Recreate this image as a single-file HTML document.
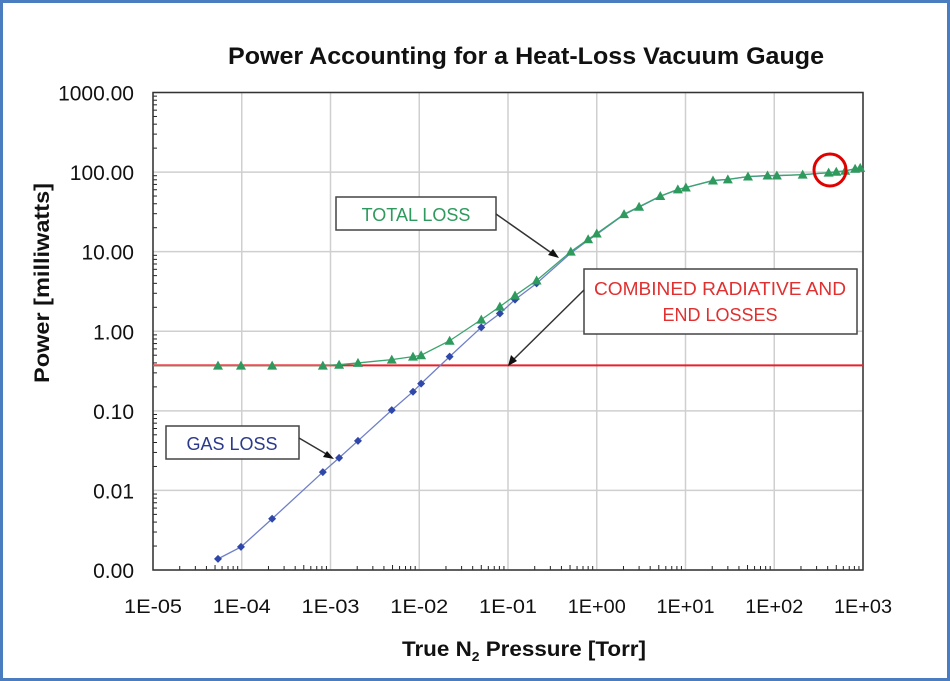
<!DOCTYPE html>
<html><head><meta charset="utf-8"><style>
html,body{margin:0;padding:0;background:#fff}
svg{display:block;font-family:"Liberation Sans",Arial,sans-serif}
</style></head><body>
<svg id="chart" width="950" height="681" viewBox="0 0 950 681" xmlns="http://www.w3.org/2000/svg">
<rect x="1.5" y="1.5" width="947" height="678" fill="#fff" stroke="#4a7dc0" stroke-width="3"/>
<text x="526" y="64" text-anchor="middle" font-size="24" font-weight="bold" fill="#111" textLength="596" lengthAdjust="spacingAndGlyphs">Power Accounting for a Heat-Loss Vacuum Gauge</text>
<g id="grid"></g>
<g id="axes"></g>
<g id="series"></g>
<text transform="translate(49,283) rotate(-90)" text-anchor="middle" font-size="21" font-weight="bold" fill="#111" textLength="200" lengthAdjust="spacingAndGlyphs">Power [milliwatts]</text>
<text x="524" y="656" text-anchor="middle" font-size="21" font-weight="bold" fill="#111" textLength="244" lengthAdjust="spacingAndGlyphs">True N<tspan font-size="13" dy="5">2</tspan><tspan dy="-5"> Pressure [Torr]</tspan></text>
<g>
<rect x="336" y="197" width="160" height="33" fill="#fff" stroke="#444" stroke-width="1.5"/>
<text x="416" y="221" text-anchor="middle" font-size="18" fill="#2e9a5e">TOTAL LOSS</text>
<line x1="496" y1="214" x2="553" y2="254" stroke="#333" stroke-width="1.5"/>
<polygon points="559,258 548,255 553,249" fill="#111"/>
</g>
<g>
<rect x="584" y="269" width="273" height="65" fill="#fff" stroke="#444" stroke-width="1.5"/>
<text x="720" y="295" text-anchor="middle" font-size="18" fill="#e03030" textLength="252" lengthAdjust="spacingAndGlyphs">COMBINED RADIATIVE AND</text>
<text x="720" y="321" text-anchor="middle" font-size="18" fill="#e03030">END LOSSES</text>
<line x1="584" y1="290" x2="512" y2="361" stroke="#333" stroke-width="1.5"/>
<polygon points="508,366 511,355 517,361" fill="#111"/>
</g>
<g>
<rect x="166" y="426" width="133" height="33" fill="#fff" stroke="#444" stroke-width="1.5"/>
<text x="232" y="450" text-anchor="middle" font-size="18" fill="#2b3a8c">GAS LOSS</text>
<line x1="299" y1="438" x2="328" y2="455" stroke="#333" stroke-width="1.5"/>
<polygon points="334,459 323,457 327,451" fill="#111"/>
</g>
<circle cx="830" cy="170" r="16" fill="none" stroke="#e00000" stroke-width="3"/>
</svg>
<script>
const totalP=[5.4e-5,9.8e-5,2.2e-4,8.2e-4,1.25e-3,2.04e-3,4.9e-3,8.5e-3,1.05e-2,0.022,0.05,0.081,0.12,0.21,0.51,0.80,1.0,2.03,3.0,5.2,8.2,10.1,20.4,30,50.6,84,107,209,410,500,630,815,930];
const totalW=[0.37,0.37,0.37,0.37,0.38,0.40,0.44,0.48,0.50,0.76,1.40,2.04,2.81,4.34,10.0,14.3,16.9,29.6,36.7,50.0,60.6,64.1,78.5,81.0,88,90.5,90.5,93,98.5,101,104,110,113];
const gasP=[5.4e-5,9.8e-5,2.2e-4,8.2e-4,1.25e-3,2.04e-3,4.9e-3,8.5e-3,1.05e-2,0.022,0.05,0.081,0.12,0.21,0.51,0.80,1.0,2.03,3.0,5.2,8.2,10.1,20.4,30,50.6,84,107,209,410,500,630,815,930];
const gasW=[0.00138,0.00195,0.0044,0.017,0.0256,0.042,0.102,0.174,0.22,0.48,1.12,1.67,2.5,4.0,9.6,13.9,16.5,29.2,36.3,49.6,60.2,63.7,78.1,80.6,87.6,90.1,90.1,92.6,98.1,100.6,103.6,109.6,112.6];
const radiativeW=[0.373];
const xTickExp=[-5,-4,-3,-2,-1,0,1,2,3];
const xTickLabels=["1E-05","1E-04","1E-03","1E-02","1E-01","1E+00","1E+01","1E+02","1E+03"];
const yTickExp=[-3,-2,-1,0,1,2,3];
const yTickLabels=["0.00","0.01","0.10","1.00","10.00","100.00","1000.00"];

const L=153,R=863,T=92.5,B=570;
function X(p){return L+(Math.log10(p)+5)/8*(R-L);}
function Y(w){return B-(Math.log10(w)+3)/6*(B-T);}
const NS="http://www.w3.org/2000/svg";
function mk(parent,tag,attrs){const e=document.createElementNS(NS,tag);for(const k in attrs)e.setAttribute(k,attrs[k]);parent.appendChild(e);return e;}
const grid=document.getElementById('grid'),axes=document.getElementById('axes'),ser=document.getElementById('series');
xTickExp.forEach((e,i)=>{
  const x=X(Math.pow(10,e));
  const g=mk(grid,'line',{x1:x,x2:x,y1:T,y2:B,stroke:'#cfcfcf','stroke-width':1.5});
  
  
  const t=mk(axes,'text',{x:x,y:613,'text-anchor':'middle','font-size':19,fill:'#111',textLength:58,lengthAdjust:'spacingAndGlyphs'});
  t.textContent=xTickLabels[i];
  
  
  if(i<xTickExp.length-1){for(let m=2;m<=9;m++){const xm=X(m*Math.pow(10,e));
    const l=mk(axes,'line',{x1:xm,x2:xm,y1:B,y2:B-(m==5?5:4),stroke:'#222','stroke-width':1});
    
    }}
});
yTickExp.forEach((e,i)=>{
  const y=Y(Math.pow(10,e));
  const g=mk(grid,'line',{x1:L,x2:R,y1:y,y2:y,stroke:'#cfcfcf','stroke-width':1.5});
  
  
  const t=mk(axes,'text',{x:134,y:y+8,'text-anchor':'end','font-size':21,fill:'#111'});
  t.textContent=yTickLabels[i];
  
  
  if(i<yTickExp.length-1){for(let m=2;m<=9;m++){const ym=Y(m*Math.pow(10,e));
    const l=mk(axes,'line',{x1:L,x2:L+4,y1:ym,y2:ym,stroke:'#222','stroke-width':1});
    
    }}
});
const frame=mk(axes,'rect',{x:L,y:T,width:R-L,height:B-T,fill:'none',stroke:'#333','stroke-width':1.5});


const rl=mk(ser,'line',{x1:L,x2:R,y1:Y(radiativeW[0]),y2:Y(radiativeW[0]),stroke:'#e8222a','stroke-width':2});


const gl=mk(ser,'polyline',{points:gasP.map((p,i)=>X(p)+','+Y(gasW[i])).join(' '),fill:'none',stroke:'#6f7fc8','stroke-width':1.3});


gasP.forEach((p,i)=>{if(p>0.3)return;const x=X(p),y=Y(gasW[i]);
  const d=mk(ser,'polygon',{points:`${x},${y-4} ${x+4},${y} ${x},${y+4} ${x-4},${y}`,fill:'#2f47a8'});
  
  });
const tl=mk(ser,'polyline',{points:totalP.map((p,i)=>X(p)+','+Y(totalW[i])).join(' '),fill:'none',stroke:'#3aa56e','stroke-width':1.3});


const lt=mk(ser,'line',{x1:L,x2:X(totalP[0]),y1:Y(totalW[0]),y2:Y(totalW[0]),stroke:'#3aa56e','stroke-width':1.3});


totalP.forEach((p,i)=>{const x=X(p),y=Y(totalW[i]);
  const d=mk(ser,'polygon',{points:`${x},${y-5} ${x+5},${y+4} ${x-5},${y+4}`,fill:'#2e9a5e'});
  
  });
</script>
</body></html>
